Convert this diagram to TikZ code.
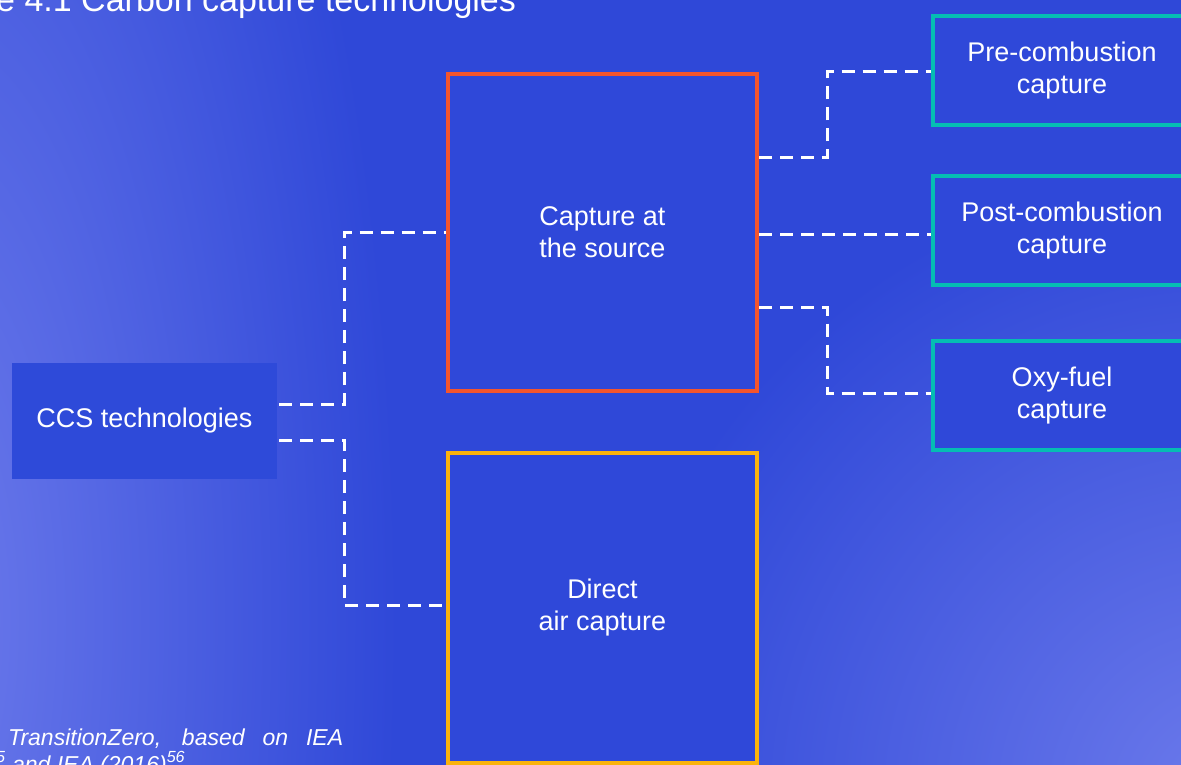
\documentclass[tikz,border=0pt]{standalone}
\usepackage{fontspec}
\setmainfont{Liberation Sans}
\usetikzlibrary{calc}
\definecolor{bgblue}{HTML}{2F48D8}
\definecolor{bglight}{HTML}{6C7AEB}
\definecolor{boxblue}{HTML}{2F48D9}
\definecolor{ccsblue}{HTML}{2E4AD9}
\definecolor{srcorange}{HTML}{F4552C}
\definecolor{dacyellow}{HTML}{FBB30C}
\definecolor{tealc}{HTML}{05BDB3}
\tikzset{
  box/.style={draw, line width=4pt, fill=boxblue, text=white, align=center, inner sep=0pt,
    font=\fontsize{27}{32}\selectfont},
  conn/.style={draw=white, line width=3pt, dash pattern=on 13pt off 8pt},
}
\begin{document}
\begin{tikzpicture}[x=1pt,y=-1pt]
\useasboundingbox (0,0) rectangle (1181,765);
\clip (0,0) rectangle (1181,765);
\fill[bgblue] (0,0) rectangle (1181,765);
\begin{scope}
  \clip (640,0) rectangle (1181,765);
  \shade[inner color=bglight, outer color=bgblue] (1230,800) circle (630);
\end{scope}
\begin{scope}
  \clip (0,0) rectangle (420,765);
  \shade[inner color=bglight, outer color=bgblue] (-70,620) ellipse (467 and 1300);
\end{scope}

% title and source
\node[anchor=base west, inner sep=0pt, text=white, font=\fontsize{34}{40}\selectfont] (title) at (-4,12) {e 4.1 Carbon capture technologies};
\node[anchor=base west, inner sep=0pt, text=white, font=\fontsize{23}{27}\selectfont\itshape] (src1) at (8,745) {\makebox[335pt][s]{TransitionZero, based on IEA}};
\node[anchor=base west, inner sep=0pt, text=white, font=\fontsize{23}{27}\selectfont\itshape] (src2) at (-4,772) {\textsuperscript{5} and IEA (2016)\textsuperscript{56}};

% nodes
\node[box, draw=none, fill=ccsblue, minimum width=265pt, minimum height=116pt] (ccs) at (144.5,421) {\raisebox{-6pt}{CCS technologies}};
\node[box, draw=srcorange, minimum width=309pt, minimum height=317pt] (srcn) at (602.5,232.5) {Capture at\\the source};
\node[box, draw=dacyellow, minimum width=309pt, minimum height=310pt] (dac) at (602.5,608) {\raisebox{-3pt}{\parbox{300pt}{\centering Direct\\air capture}}};
\node[box, draw=tealc, minimum width=258pt, minimum height=109pt] (pre) at (1062,70.5) {\raisebox{-3pt}{\parbox{250pt}{\centering Pre-combustion\\capture}}};
\node[box, draw=tealc, minimum width=258pt, minimum height=109pt] (post) at (1062,230.5) {\raisebox{-2pt}{\parbox{250pt}{\centering Post-combustion\\capture}}};
\node[box, draw=tealc, minimum width=258pt, minimum height=109pt] (oxy) at (1062,395.5) {\raisebox{-2pt}{\parbox{250pt}{\centering Oxy-fuel\\capture}}};

\coordinate (j1) at (344,0);
\coordinate (j2) at (827,0);

% connectors
\draw[conn] ($(ccs.east)+(0,-17)$) -| (j1 |- srcn.west) -- (srcn.west);
\draw[conn] ($(ccs.east)+(0,19)$) -| ($(j1 |- dac.west)+(0,-3)$) -- ($(dac.west)+(0,-3)$);
\draw[conn] ($(srcn.east)+(0,-75)$) -| ($(j2 |- pre.west)+(0,1.5)$) -- ($(pre.west)+(0,1.5)$);
\draw[conn] ($(srcn.east)+(0,2)$) -- ($(srcn.east -| post.west)+(0,2)$);
\draw[conn] ($(srcn.east)+(0,75)$) -| ($(j2 |- oxy.west)+(0,-2.5)$) -- ($(oxy.west)+(0,-2.5)$);
\end{tikzpicture}
\end{document}
